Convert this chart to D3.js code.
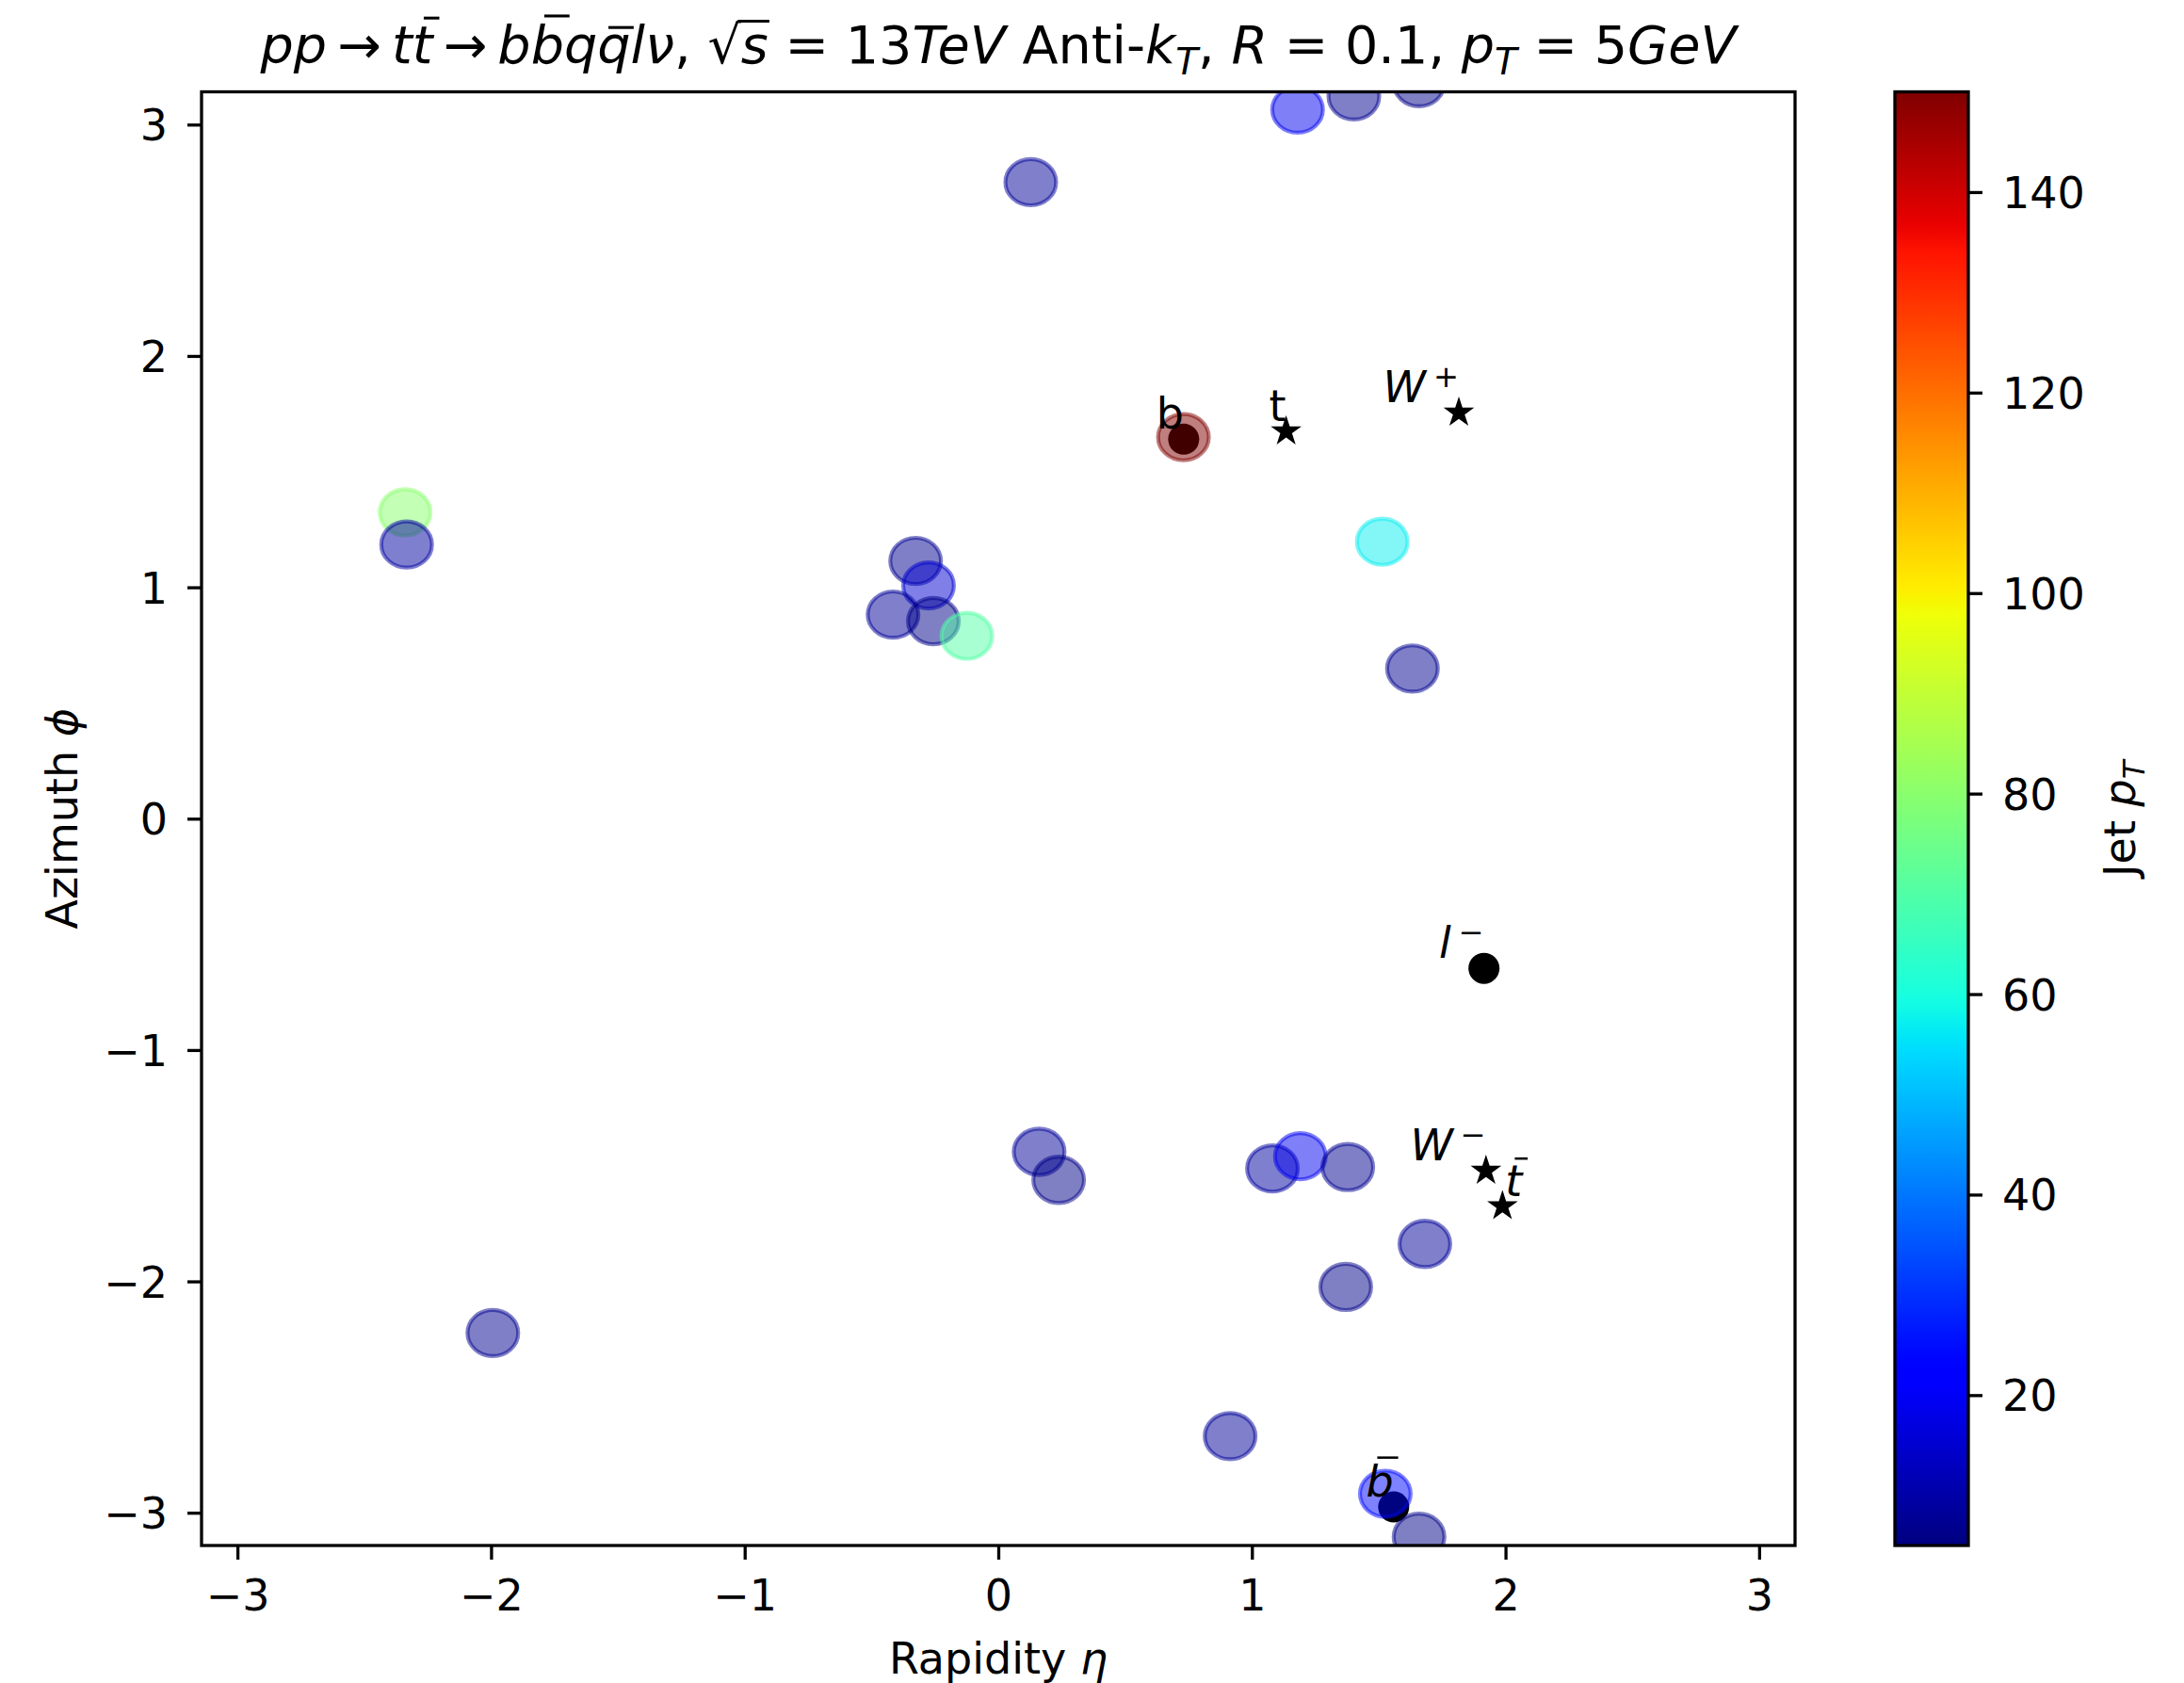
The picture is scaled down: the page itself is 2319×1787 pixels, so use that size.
<!DOCTYPE html>
<html><head><meta charset="utf-8">
<script src="https://cdn.jsdelivr.net/npm/d3@7"></script>
<style>
body{margin:0;background:#fff}
text{font-family:"DejaVu Sans",sans-serif;fill:#000}
</style>
</head><body>
<svg id="chart" width="2319" height="1787"></svg>
<script>
// ---------------- data ----------------
// reconstructed jets (Anti-kT, R = 0.1): rapidity, azimuth, transverse momentum [GeV]
const jetEta = [1.180, 1.402, 1.659, 0.128, 0.730, 1.514, -2.339, -2.333, -0.326, -0.275, -0.415, -0.256, -0.124, 1.633, 0.161, 0.238, 1.081, 1.191, 1.378, 1.682, 1.370, -1.993, 0.914, 1.526, 1.659];
const jetPhi = [3.065, 3.122, 3.179, 2.751, 1.649, 1.197, 1.324, 1.185, 1.114, 1.008, 0.882, 0.854, 0.790, 0.649, -1.440, -1.561, -1.512, -1.459, -1.506, -1.838, -2.024, -2.223, -2.669, -2.918, -3.104];
const jetPt  = [19, 7, 6, 8, 150, 57, 80, 9, 7, 15, 8, 6, 70, 7, 8, 6, 9, 19, 7, 8, 6, 7, 8, 24, 6];

// truth partons / leptons
const partonName  = ["b", "bbar", "lminus", "t", "tbar", "Wplus", "Wminus"];
const partonEta   = [0.731, 1.559, 1.915, 1.135, 1.988, 1.816, 1.923];
const partonPhi   = [1.640, -2.975, -0.647, 1.674, -1.675, 1.755, -1.522];
const partonShape = ["dot", "dot", "dot", "star", "star", "star", "star"];

const xTicks  = [-3, -2, -1, 0, 1, 2, 3];
const yTicks  = [-3, -2, -1, 0, 1, 2, 3];
const cbTicks = [20, 40, 60, 80, 100, 120, 140];
const ptRange = [5, 150];
const R = 0.1;

// ---------------- layout ----------------
const W = 2319, H = 1787;
const plot = {left: 214, right: 1906, top: 97.5, bottom: 1641};
const cb = {left: 2012, right: 2090};
const FS = 46;           // tick / label font
const LW = 3.3;          // spine width

const svg = d3.select("#chart");
svg.append("rect").attr("width", W).attr("height", H).attr("fill", "#fff");

const x = d3.scaleLinear().domain([-Math.PI, Math.PI]).range([plot.left, plot.right]);
const y = d3.scaleLinear().domain([-Math.PI, Math.PI]).range([plot.bottom, plot.top]);

// matplotlib "jet" colormap
const jetSeg = {
  r: [[0, 0], [0.35, 0], [0.66, 1], [0.89, 1], [1, 0.5]],
  g: [[0, 0], [0.125, 0], [0.375, 1], [0.64, 1], [0.91, 0], [1, 0]],
  b: [[0, 0.5], [0.11, 1], [0.34, 1], [0.65, 0], [1, 0]]
};
function seg(pts, t) {
  for (let i = 1; i < pts.length; i++) {
    if (t <= pts[i][0]) {
      const [x0, y0] = pts[i - 1], [x1, y1] = pts[i];
      return y0 + (y1 - y0) * (t - x0) / (x1 - x0);
    }
  }
  return pts[pts.length - 1][1];
}
function jetCmap(t) {
  t = Math.max(0, Math.min(1, t));
  return d3.rgb(seg(jetSeg.r, t) * 255, seg(jetSeg.g, t) * 255, seg(jetSeg.b, t) * 255).formatHex();
}
const norm = d3.scaleLinear().domain(ptRange).range([0, 1]).clamp(true);
const color = v => jetCmap(norm(v));

const defs = svg.append("defs");
defs.append("clipPath").attr("id", "clip").append("rect")
  .attr("x", plot.left).attr("y", plot.top)
  .attr("width", plot.right - plot.left).attr("height", plot.bottom - plot.top);

const jets = jetEta.map((e, i) => ({eta: e, phi: jetPhi[i], pt: jetPt[i]}));
const partons = partonName.map((n, i) => ({name: n, eta: partonEta[i], phi: partonPhi[i], shape: partonShape[i]}));

const g = svg.append("g").attr("clip-path", "url(#clip)");

// parton markers (underneath jets)
g.selectAll("circle.parton").data(partons.filter(d => d.shape === "dot")).join("circle")
  .attr("class", "parton")
  .attr("cx", d => x(d.eta)).attr("cy", d => y(d.phi)).attr("r", 16.5).attr("fill", "#000");
g.selectAll("path.parton").data(partons.filter(d => d.shape === "star")).join("path")
  .attr("class", "parton")
  .attr("transform", d => `translate(${x(d.eta)},${y(d.phi)})`)
  .attr("d", d3.symbol(d3.symbolStar, 330)).attr("fill", "#000");

// jets as circles of radius R in (eta, phi)
g.selectAll("ellipse.jet").data(jets).join("ellipse")
  .attr("class", "jet")
  .attr("cx", d => x(d.eta)).attr("cy", d => y(d.phi))
  .attr("rx", x(R) - x(0)).attr("ry", y(0) - y(R))
  .attr("fill", d => color(d.pt)).attr("fill-opacity", 0.5)
  .attr("stroke", d => color(d.pt)).attr("stroke-opacity", 0.5)
  .attr("stroke-width", 4.2);

// ---------------- rich text helper ----------------
function richText(parent, px, py, segs, fs, anchor) {
  const t = parent.append("text").attr("x", px).attr("y", py)
    .attr("font-size", fs).attr("text-anchor", anchor || "start");
  let shift = 0, idx = 0;
  const marks = [];
  segs.forEach(s => {
    const small = s.sub || s.sup;
    const size = small ? fs * 0.7 : fs;
    const target = s.sub ? fs * 0.22 : s.sup ? -fs * 0.36 : 0;
    const ts = t.append("tspan").text(s.t).attr("font-size", size);
    let dy = target - shift;
    if (dy !== 0) { ts.attr("dy", dy); shift = target; }
    if (s.it) ts.attr("font-style", "italic");
    if (s.dx) ts.attr("dx", s.dx);
    if (s.bar) marks.push({type: "bar", i: idx, h: s.bar});
    if (s.rad) marks.push({type: "rad", i: idx, h: s.rad});
    idx += s.t.length;
  });
  const node = t.node();
  marks.forEach(m => {
    const e = node.getExtentOfChar(m.i);
    const by = py - m.h * fs;
    let x1, x2;
    if (m.type === "bar") {
      const sl = m.h * fs * 0.2;
      x1 = e.x + e.width * 0.12 + sl; x2 = e.x + e.width * 0.88 + sl;
    } else {
      const r = node.getExtentOfChar(m.i - 1);
      x1 = r.x + r.width * 0.9; x2 = e.x + e.width + fs * 0.02;
    }
    parent.append("line").attr("x1", x1).attr("x2", x2).attr("y1", by).attr("y2", by)
      .attr("stroke", "#000").attr("stroke-width", fs * 0.055);
  });
  return t;
}

// parton labels
const partonLabel = {
  b:      {segs: [{t: "b"}], anchor: "end"},
  bbar:   {segs: [{t: "b", it: true, bar: 0.9}], anchor: "end"},
  lminus: {segs: [{t: "l", it: true}, {t: "−", sup: true, dx: 8}], anchor: "end"},
  t:      {segs: [{t: "t"}], anchor: "end"},
  tbar:   {segs: [{t: "t", it: true, bar: 0.86}], anchor: "start"},
  Wplus:  {segs: [{t: "W", it: true}, {t: "+", sup: true, dx: 8}], anchor: "end"},
  Wminus: {segs: [{t: "W", it: true}, {t: "−", sup: true, dx: 8}], anchor: "end"}
};
const gLab = svg.append("g");
partons.forEach(p => {
  const L = partonLabel[p.name];
  richText(gLab, x(p.eta) + (L.anchor === "start" ? 3 : 0), y(p.phi) - 11, L.segs, FS, L.anchor);
});

// ---------------- axes ----------------
const fmt = d3.format("d");
const xAxis = d3.axisBottom(x).tickValues(xTicks).tickFormat(fmt).tickSize(15).tickPadding(21).tickSizeOuter(0);
const gx = svg.append("g").attr("transform", `translate(0,${plot.bottom})`).call(xAxis);
const yAxis = d3.axisLeft(y).tickValues(yTicks).tickFormat(fmt).tickSize(15).tickPadding(21).tickSizeOuter(0);
const gy = svg.append("g").attr("transform", `translate(${plot.left},0)`).call(yAxis);
[gx, gy].forEach(a => {
  a.attr("font-size", FS).attr("font-family", "DejaVu Sans");
  a.select(".domain").remove();
  a.selectAll(".tick line").attr("stroke", "#000").attr("stroke-width", LW);
  a.selectAll(".tick text").attr("fill", "#000");
});
gy.selectAll(".tick text").attr("dy", "0.36em");

svg.append("rect").attr("x", plot.left).attr("y", plot.top)
  .attr("width", plot.right - plot.left).attr("height", plot.bottom - plot.top)
  .attr("fill", "none").attr("stroke", "#000").attr("stroke-width", LW);

// axis labels
richText(svg, (plot.left + plot.right) / 2, 1777, [{t: "Rapidity "}, {t: "η", it: true}], FS, "middle");
const yl = svg.append("g").attr("transform", `translate(82,${(plot.top + plot.bottom) / 2}) rotate(-90)`);
richText(yl, 0, 0, [{t: "Azimuth "}, {t: "ϕ", it: true}], FS, "middle");

// ---------------- colorbar ----------------
const grad = defs.append("linearGradient").attr("id", "jetgrad")
  .attr("x1", 0).attr("y1", 1).attr("x2", 0).attr("y2", 0);
d3.range(0, 1.0001, 0.01).forEach(t => {
  grad.append("stop").attr("offset", t).attr("stop-color", jetCmap(t));
});
svg.append("rect").attr("x", cb.left).attr("y", plot.top)
  .attr("width", cb.right - cb.left).attr("height", plot.bottom - plot.top)
  .attr("fill", "url(#jetgrad)").attr("stroke", "#000").attr("stroke-width", LW);
const cbY = d3.scaleLinear().domain(ptRange).range([plot.bottom, plot.top]);
const gc = svg.append("g").attr("transform", `translate(${cb.right},0)`)
  .call(d3.axisRight(cbY).tickValues(cbTicks).tickFormat(fmt).tickSize(15).tickPadding(21).tickSizeOuter(0));
gc.attr("font-size", FS).attr("font-family", "DejaVu Sans");
gc.select(".domain").remove();
gc.selectAll(".tick line").attr("stroke", "#000").attr("stroke-width", LW);
gc.selectAll(".tick text").attr("fill", "#000").attr("dy", "0.36em");
const cl = svg.append("g").attr("transform", `translate(2267,${(plot.top + plot.bottom) / 2}) rotate(-90)`);
richText(cl, 0, 0, [{t: "Jet "}, {t: "p", it: true}, {t: "T", it: true, sub: true}], FS, "middle");

// ---------------- title ----------------
const TS = "\u2009"; // thin space (mathtext relation spacing)
const titleSegs = [
  {t: "pp", it: true}, {t: TS + "→" + TS}, {t: "t", it: true}, {t: "t", it: true, bar: 0.86},
  {t: TS + "→" + TS}, {t: "b", it: true}, {t: "b", it: true, bar: 0.9}, {t: "q", it: true},
  {t: "q", it: true, bar: 0.68}, {t: "lν", it: true}, {t: ", "}, {t: "√"}, {t: "s", it: true, rad: 0.8},
  {t: " = "}, {t: "13"}, {t: "TeV", it: true}, {t: " Anti-"}, {t: "k", it: true},
  {t: "T", it: true, sub: true}, {t: ", "}, {t: "R", it: true}, {t: " = "}, {t: "0.1"},
  {t: ", "}, {t: "p", it: true}, {t: "T", it: true, sub: true}, {t: " = "}, {t: "5"},
  {t: "GeV", it: true}
];
richText(svg, (plot.left + plot.right) / 2, 67, titleSegs, 55.6, "middle");
</script>
</body></html>
